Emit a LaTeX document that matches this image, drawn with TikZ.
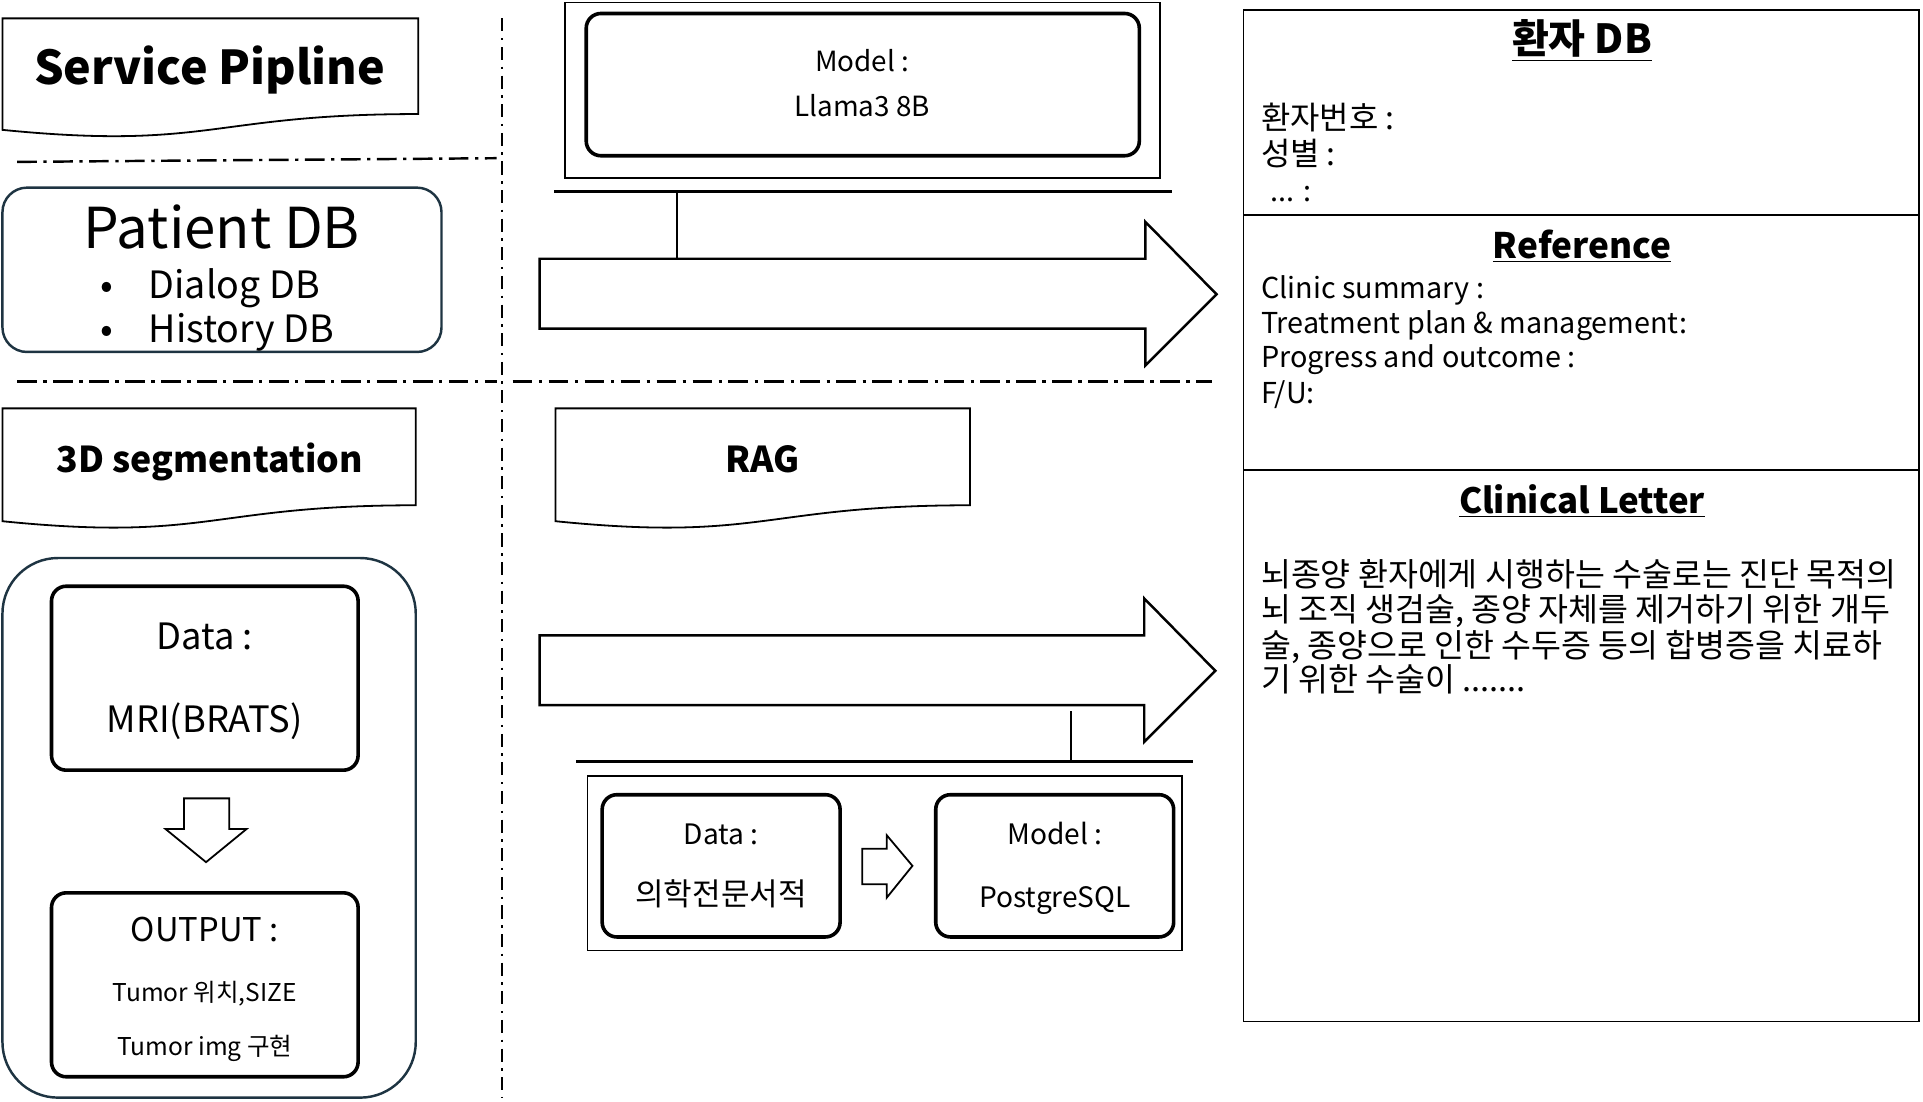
\documentclass[tikz,border=0pt]{standalone}
\usepackage{fontspec}
\setmainfont{Noto Sans CJK KR}
\usepackage{xcolor}
\usepackage{tikz}

\definecolor{dbframe}{RGB}{30,52,66}
\newcommand{\txtsize}[1]{\fontsize{#1}{#1}\selectfont}

\begin{document}
\begin{tikzpicture}[x=0.75pt,y=0.75pt,yscale=-1,xscale=1,
	thinbox/.style={line width=1.1pt},
	thickbox/.style={line width=2.2pt, rounded corners=9pt},
	sepline/.style={line width=1.5pt, dash pattern=on 12pt off 4pt on 2pt off 4pt},
	vsepline/.style={line width=1.1pt, dash pattern=on 8pt off 4pt on 1.5pt off 4pt},
	txt/.style={inner sep=0.75pt}]
	\useasboundingbox (0,0) rectangle (1568,898);
	
	%Shape: Document [id:svcPipeline]
	\draw [thinbox] (2,15) -- (341,15) -- (341,93) .. controls (171.5,93) and (171.5,122.7) .. (2,105.9) -- cycle ;
	%Straight Lines [id:sepTop]
	\draw [sepline] (14,132) -- (405,129) ;
	%Straight Lines [id:sepMid]
	\draw [sepline] (14,311) -- (405,311) ;
	\draw [sepline] (418,311) -- (988,311) ;
	%Straight Lines [id:sepVert]
	\draw [vsepline] (409,15) -- (409,895) ;
	
	%Shape: Rounded Rect [id:patientDB]
	\draw [dbframe, line width=1.5pt, rounded corners=15pt] (2,153) rectangle (360,287) ;
	
	%Shape: Document [id:segTitle]
	\draw [thinbox] (2,333) -- (339,333) -- (339,412) .. controls (170.5,412) and (170.5,442) .. (2,425) -- cycle ;
	%Shape: Document [id:ragTitle]
	\draw [thinbox] (453,333) -- (791,333) -- (791,412) .. controls (622,412) and (622,442) .. (453,425) -- cycle ;
	
	%Shape: Rounded Rect [id:segGroup]
	\draw [dbframe, line width=1.5pt, rounded corners=34pt] (2,455) rectangle (339,895) ;
	\draw [thickbox] (42,478) rectangle (292,628) ;
	\draw [thickbox] (42,728) rectangle (292,878) ;
	%Shape: Down Arrow [id:segArrow]
	\draw [thinbox] (150,651) -- (187,651) -- (187,676) -- (201,676) -- (168,703) -- (135,676) -- (150,676) -- cycle ;
	
	%Shape: Rectangle [id:llmBox]
	\draw [thinbox] (461,2) rectangle (946,145) ;
	\draw [thickbox] (478,11) rectangle (929,127) ;
	%Straight Lines [id:llmBar]
	\coordinate (llmBarTop) at (552,156) ;
	\coordinate (llmBarEnd) at (552,212) ;
	\draw [line width=1.5pt] (452,156) -- (956,156) ;
	\draw [thinbox] (llmBarTop) -- (llmBarEnd) ;
	
	%Shape: Right Arrow [id:llmArrow]
	\draw [line width=1.5pt] (440,211) -- (934,211) -- (934,181) -- (992,240) -- (934,298) -- (934,268) -- (440,268) -- cycle ;
	%Shape: Right Arrow [id:ragArrow]
	\draw [line width=1.5pt] (440,518) -- (933,518) -- (933,488) -- (991,547) -- (933,605) -- (933,575) -- (440,575) -- cycle ;
	
	%Straight Lines [id:ragBar]
	\coordinate (ragBarEnd) at (873,580) ;
	\coordinate (ragBarTop) at (873,621) ;
	\draw [line width=1.5pt] (470,621) -- (973,621) ;
	\draw [thinbox] (ragBarTop) -- (ragBarEnd) ;
	
	%Shape: Rectangle [id:ragBox]
	\draw [thinbox] (479,633) rectangle (964,775) ;
	\draw [thickbox] (491,648) rectangle (685,764) ;
	\draw [thickbox] (763,648) rectangle (957,764) ;
	%Shape: Right Arrow [id:ragSmallArrow]
	\draw [thinbox] (703,692) -- (723,692) -- (723,681) -- (744,706) -- (723,732) -- (723,721) -- (703,721) -- cycle ;
	
	%Shape: Rectangle [id:letterBox]
	\draw [thinbox] (1014,8) rectangle (1565,833) ;
	\draw [thinbox] (1014,175) -- (1565,175) ;
	\draw [thinbox] (1014,383) -- (1565,383) ;
	
	% Text Node
	\draw (171,69) node [anchor=base][txt] (svcText) {\txtsize{28.5}\bfseries Service Pipline};
	% Text Node
	\draw (181,203) node [anchor=base][txt] (patientText) {\txtsize{34.5}Patient DB};
	% Text Node
	\draw (87,243) node [anchor=base][txt] (dialogDot) {\txtsize{23}•};
	\draw (120,243) node [anchor=base west][txt] (dialogText) {\txtsize{23}Dialog DB};
	% Text Node
	\draw (87,279) node [anchor=base][txt] (historyDot) {\txtsize{23}•};
	\draw (120,279) node [anchor=base west][txt] (historyText) {\txtsize{23}History DB};
	% Text Node
	\draw (171,385) node [anchor=base][txt] (segText) {\txtsize{21.8}\bfseries 3D segmentation};
	% Text Node
	\draw (622,385) node [anchor=base][txt] (ragText) {\txtsize{21.8}\bfseries RAG};
	
	% Text Node
	\draw (703,58) node [anchor=base][txt] (llmModel) {\txtsize{17}Model :};
	\draw (703,95) node [anchor=base][txt] (llmName) {\txtsize{17}Llama3 8B};
	
	% Text Node
	\draw (167,530) node [anchor=base][txt] (segData) {\txtsize{22.2}Data :};
	\draw (167,597) node [anchor=base][txt] (segMri) {\txtsize{22.2}MRI(BRATS)};
	% Text Node
	\draw (167,768) node [anchor=base][txt] (segOut) {\txtsize{20}OUTPUT :};
	\draw (167,817) node [anchor=base][txt] (segPos) {\txtsize{15}Tumor 위치,SIZE};
	\draw (167,861) node [anchor=base][txt] (segImg) {\txtsize{15}Tumor img 구현};
	
	% Text Node
	\draw (588,689) node [anchor=base][txt] (ragData) {\txtsize{17.2}Data :};
	\draw (588,738) node [anchor=base][txt] (ragBook) {\txtsize{19}의학전문서적};
	\draw (860,689) node [anchor=base][txt] (ragModel) {\txtsize{17.2}Model :};
	\draw (860,740) node [anchor=base][txt] (ragSql) {\txtsize{17.2}PostgreSQL};
	
	% Text Node
	\draw (1290,44) node [anchor=base][txt] (dbHead) {\txtsize{24.5}\bfseries\underline{환자 DB}};
	\draw (1027,106) node [anchor=base west][txt] (dbNo) {\txtsize{19.5}환자번호 :};
	\draw (1027,135) node [anchor=base west][txt] (dbSex) {\txtsize{19.5}성별 :};
	\draw (1035,164) node [anchor=base west][txt] (dbEtc) {\txtsize{17.6}... :};
	% Text Node
	\draw (1290,211) node [anchor=base][txt] (refHead) {\txtsize{21.5}\bfseries\underline{Reference}};
	\draw (1027,243) node [anchor=base west][txt] (refSummary) {\txtsize{17.6}Clinic summary :};
	\draw (1027,272) node [anchor=base west][txt] (refPlan) {\txtsize{17.6}Treatment plan \& management:};
	\draw (1027,300) node [anchor=base west][txt] (refProgress) {\txtsize{17.6}Progress and outcome :};
	\draw (1027,329) node [anchor=base west][txt] (refFu) {\txtsize{17.6}F/U:};
	% Text Node
	\draw (1290,419) node [anchor=base][txt] (letterHead) {\txtsize{21.3}\bfseries\underline{Clinical Letter}};
	\draw (1027,478) node [anchor=base west][txt] (letterL1) {\txtsize{19.9}뇌종양 환자에게 시행하는 수술로는 진단 목적의};
	\draw (1027,507) node [anchor=base west][txt] (letterL2) {\txtsize{19.9}뇌 조직 생검술, 종양 자체를 제거하기 위한 개두};
	\draw (1027,536) node [anchor=base west][txt] (letterL3) {\txtsize{19.9}술, 종양으로 인한 수두증 등의 합병증을 치료하};
	\draw (1027,564) node [anchor=base west][txt] (letterL4) {\txtsize{19.9}기 위한 수술이 .......};
\end{tikzpicture}
\end{document}
